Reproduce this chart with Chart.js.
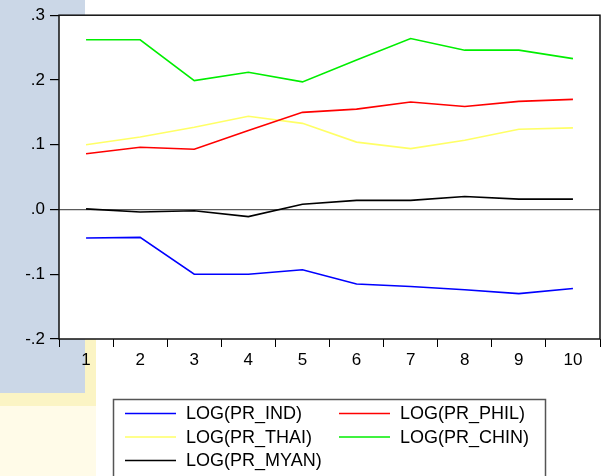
<!DOCTYPE html>
<html>
<head>
<meta charset="utf-8">
<script src="https://cdn.jsdelivr.net/npm/chart.js@4/dist/chart.umd.min.js"></script>
<style>
  html, body { margin: 0; padding: 0; background: #fff; }
  #wrap { width: 609px; height: 476px; position: relative; }
</style>
</head>
<body>
<div id="wrap"><canvas id="c" width="609" height="476"></canvas></div>
<script>
// Periods on the horizontal axis
const periods = ['1', '2', '3', '4', '5', '6', '7', '8', '9', '10'];

// Series values
const prInd  = [-0.044, -0.043, -0.100, -0.100, -0.093, -0.115, -0.119, -0.124, -0.130, -0.122];
const prPhil = [0.086, 0.096, 0.093, 0.122, 0.150, 0.155, 0.166, 0.159, 0.167, 0.170];
const prThai = [0.100, 0.112, 0.127, 0.144, 0.133, 0.104, 0.094, 0.107, 0.124, 0.126];
const prChin = [0.262, 0.262, 0.199, 0.212, 0.197, 0.231, 0.264, 0.246, 0.246, 0.233];
const prMyan = [0.001, -0.004, -0.002, -0.011, 0.008, 0.014, 0.014, 0.020, 0.016, 0.016];

// Vertical axis range and step
const yMin = -0.2;
const yMax = 0.3;
const yStep = 0.1;

const seriesLabels = ['LOG(PR_IND)', 'LOG(PR_PHIL)', 'LOG(PR_THAI)', 'LOG(PR_CHIN)', 'LOG(PR_MYAN)'];
const seriesColors = ['#0000ff', '#ff0000', '#ffff66', '#00ee00', '#000000'];
const seriesValues = [prInd, prPhil, prThai, prChin, prMyan];

const FONT = "'Liberation Sans', Arial, sans-serif";

function fmtTick(v) {
  const n = Math.round(v * 10);
  return (n < 0 ? '-' : '') + '.' + Math.abs(n);
}

// Faint emblem in the margin and white plotting area behind the lines
const backdrop = {
  id: 'backdrop',
  beforeDraw(chart) {
    const { ctx, chartArea: a } = chart;
    ctx.save();
    ctx.fillStyle = '#ffffff';
    ctx.fillRect(0, 0, chart.width, chart.height);
    ctx.fillStyle = '#fbf4c4';
    ctx.fillRect(0, 300, 96, 106);
    ctx.fillStyle = '#fffbe8';
    ctx.fillRect(0, 406, 96, 70);
    ctx.fillStyle = '#cbd7e7';
    ctx.fillRect(0, 0, 85, 393);
    ctx.fillStyle = '#ffffff';
    ctx.fillRect(a.left, a.top, a.right - a.left, a.bottom - a.top);
    ctx.restore();
  }
};

// Frame around the plotting area and the boxed legend below it
const frameAndLegend = {
  id: 'frameAndLegend',
  afterDraw(chart) {
    const { ctx, chartArea: a } = chart;
    ctx.save();
    ctx.strokeStyle = '#111';
    ctx.lineWidth = 1.5;
    ctx.strokeRect(a.left, a.top, a.right - a.left, a.bottom - a.top);

    ctx.strokeStyle = '#555';
    ctx.lineWidth = 1.5;
    ctx.strokeRect(113.5, 399.5, 432, 120);

    ctx.font = '18px ' + FONT;
    ctx.textBaseline = 'middle';
    ctx.textAlign = 'left';
    chart.data.datasets.forEach((ds, i) => {
      const col = i % 2;
      const row = Math.floor(i / 2);
      const lx = col === 0 ? 125 : 339;
      const y = 413.5 + row * 23.5;
      ctx.strokeStyle = ds.borderColor;
      ctx.lineWidth = 1.5;
      ctx.beginPath();
      ctx.moveTo(lx, y);
      ctx.lineTo(lx + 51, y);
      ctx.stroke();
      ctx.fillStyle = '#000';
      ctx.fillText(ds.label, lx + 61, y + 1);
    });
    ctx.restore();
  }
};

new Chart(document.getElementById('c'), {
  type: 'line',
  data: {
    labels: periods,
    datasets: seriesValues.map((vals, i) => ({
      label: seriesLabels[i],
      data: vals,
      borderColor: seriesColors[i],
      backgroundColor: seriesColors[i],
      borderWidth: 1.6,
      pointRadius: 0,
      tension: 0,
      fill: false
    }))
  },
  options: {
    responsive: false,
    devicePixelRatio: 1,
    animation: false,
    layout: { padding: { left: 0, top: 14, right: 9, bottom: 107 } },
    plugins: {
      legend: { display: false },
      tooltip: { enabled: false }
    },
    scales: {
      x: {
        type: 'category',
        offset: true,
        grid: {
          display: true,
          drawOnChartArea: false,
          drawTicks: true,
          tickLength: 8,
          color: '#000',
          tickColor: '#000',
          offset: true
        },
        border: { display: false },
        ticks: {
          color: '#000',
          font: { family: FONT, size: 17 },
          padding: 3,
          maxRotation: 0,
          autoSkip: false
        },
        afterFit(scale) { scale.height = 30; }
      },
      y: {
        min: yMin,
        max: yMax,
        grid: {
          drawOnChartArea: true,
          drawTicks: true,
          tickLength: 9,
          lineWidth: 1.2,
          color: (c) => (c.tick && Math.abs(c.tick.value) < 1e-9 ? '#5a5a5a' : 'rgba(0,0,0,0)'),
          tickColor: '#000'
        },
        border: { display: false },
        ticks: {
          stepSize: yStep,
          color: '#000',
          font: { family: FONT, size: 17 },
          padding: 5,
          callback: (v) => fmtTick(v)
        },
        afterFit(scale) { scale.width = 59; }
      }
    }
  },
  plugins: [backdrop, frameAndLegend]
});
</script>
</body>
</html>
